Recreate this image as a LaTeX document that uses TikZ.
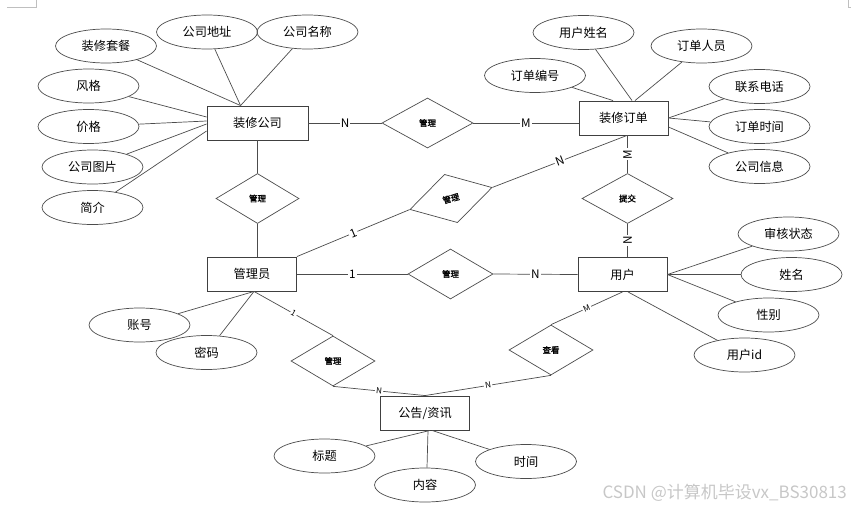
\documentclass[tikz,border=0pt]{standalone}
\usepackage{fontspec}
\setmainfont{Noto Sans CJK SC}[BoldFont={Noto Sans CJK SC},BoldFeatures={FakeBold=1.5}]
\usetikzlibrary{shapes.geometric, calc}

\begin{document}
\begin{tikzpicture}[
			x=0.03cm, y=-0.03cm,
			line/.style={
				draw=black!70,
				line width=0.6pt
			},
			entity/.style={
				rectangle,
				draw=black!75,
				minimum width=2.67cm,
				minimum height=1.02cm,
				inner sep=0pt,
				font=\fontsize{10.4}{12}\selectfont,
				line width=0.75pt
			},
			attr/.style={
				ellipse,
				draw=black!70,
				minimum width=3.03cm,
				minimum height=1.02cm,
				inner sep=0pt,
				font=\fontsize{10.4}{12}\selectfont,
				line width=0.6pt
			},
			rel/.style={
				diamond,
				draw=black!70,
				minimum width=2.52cm,
				minimum height=1.5cm,
				inner sep=0pt,
				font=\fontsize{7.2}{8}\selectfont\bfseries,
				line width=0.6pt
			},
			card/.style={
				fill=white,
				inner sep=1pt,
				sloped,
				font=\fontsize{10}{11}\selectfont
			},
			cardsm/.style={
				card,
				font=\fontsize{7}{8}\selectfont
			}
			]
			
			\useasboundingbox (0,0) rectangle (851,507);
			
			% page corner marks
			\draw[black!25, line width=0.5pt] (7,7) -- (36,7) -- (36,0);
			\draw[black!25, line width=0.5pt] (848,0) -- (848,7) -- (851,7);
			
			% Entities
			\node[entity, minimum width=3.03cm] (company) at (257.5,123) {装修公司};
			\node[entity] (order) at (623.5,118) {装修订单};
			\node[entity] (admin) at (252,274) {管理员};
			\node[entity] (user) at (622.5,274.5) {用户};
			\node[entity] (notice) at (425,413) {公告/资讯};
			
			% Relations
			\node[rel, minimum width=2.73cm] (r_co) at (427.5,123) {管理};
			\node[rel, minimum width=2.49cm] (r_ca) at (257.5,198.5) {管理};
			\node[rel, minimum width=2.55cm, rotate=15] (r_ao) at (451,198.5) {管理};
			\node[rel, minimum width=2.55cm] (r_au) at (450.5,274) {管理};
			\node[rel, minimum width=2.73cm] (r_ou) at (627.5,198.5) {提交};
			\node[rel] (r_an) at (333,361) {管理};
			\node[rel] (r_un) at (551,350) {查看};
			
			% 装修公司 attributes
			\node[attr] (a_pkg) at (106,46) {装修套餐};
			\node[attr] (a_addr) at (207,32) {公司地址};
			\node[attr] (a_cname) at (307.5,32) {公司名称};
			\node[attr] (a_style) at (88.5,86) {风格};
			\node[attr] (a_price) at (88.5,126.5) {价格};
			\node[attr] (a_pic) at (92.5,167) {公司图片};
			\node[attr] (a_intro) at (92.5,207.5) {简介};
			\draw[line] (a_pkg) -- ($(company.north west)+(34,0)$);
			\draw[line] (a_addr) -- ($(company.north west)+(34,0)$);
			\draw[line] (a_cname) -- ($(company.north west)+(34,0)$);
			\draw[line] (a_style) -- ($(company.west)+(0,-6)$);
			\draw[line] (a_price) -- ($(company.west)+(0,-2)$);
			\draw[line] (a_pic) -- ($(company.west)+(0,1)$);
			\draw[line] (a_intro) -- ($(company.west)+(0,8)$);
			
			% 装修订单 attributes
			\node[attr] (a_ono) at (535,75.5) {订单编号};
			\node[attr] (a_uname) at (583.5,32.5) {用户姓名};
			\node[attr] (a_staff) at (701.5,46) {订单人员};
			\node[attr] (a_tel) at (759.5,86.5) {联系电话};
			\node[attr] (a_otime) at (759.5,126.5) {订单时间};
			\node[attr] (a_cinfo) at (759.5,166.5) {公司信息};
			\draw[line] (a_ono) -- ($(order.north)+(-10.5,0)$);
			\draw[line] (a_uname) -- ($(order.north)+(8.5,0)$);
			\draw[line] (a_staff) -- ($(order.north)+(11.5,0)$);
			\draw[line] (a_tel) -- (order.east);
			\draw[line] (a_otime) -- (order.east);
			\draw[line] (a_cinfo) -- ($(order.east)+(0,9)$);
			
			% 用户 attributes
			\node[attr] (a_audit) at (788.5,234) {审核状态};
			\node[attr] (a_name) at (791.5,274.5) {姓名};
			\node[attr] (a_sex) at (768.5,315) {性别};
			\node[attr] (a_uid) at (744.5,355) {用户id};
			\draw[line] (a_audit) -- (user.east);
			\draw[line] (a_name) -- (user.east);
			\draw[line] (a_sex) -- (user.east);
			\draw[line] (a_uid) -- ($(user.south)+(5.5,0)$);
			
			% 管理员 attributes
			\node[attr] (a_acc) at (139.5,325) {账号};
			\node[attr] (a_pwd) at (206.5,352.5) {密码};
			\draw[line] (a_acc) -- ($(admin.south)+(2,0)$);
			\draw[line] (a_pwd) -- ($(admin.south)+(2,0)$);
			
			% 公告/资讯 attributes
			\node[attr] (a_title) at (324.5,456) {标题};
			\node[attr] (a_text) at (425,485) {内容};
			\node[attr] (a_time) at (526,461.5) {时间};
			\draw[line] (a_title) -- ($(notice.south)+(5,0)$);
			\draw[line] ($(notice.south)+(3,0)$) -- ($(a_text.north)+(2,0)$);
			\draw[line] (a_time) -- ($(notice.south)+(7,0)$);
			
			% Relation lines
			\draw[line] (company.east) -- node[card] {N} (r_co.west);
			\draw[line] (r_co.east) -- node[card] {M} ($(order.west)+(0,5)$);
			\draw[line] (company.south) -- (r_ca.north);
			\draw[line] (r_ca.south) -- ($(admin.north)+(5.5,0)$);
			\draw[line] (admin.north east) -- node[card] {1} (r_ao.west);
			\draw[line] (r_ao.east) -- node[card] {N} ($(order.south)+(3.5,0)$);
			\draw[line] (r_ou.north) -- node[card] {M} ($(order.south)+(4,0)$);
			\draw[line] ($(user.north)+(5,0)$) -- node[card] {N} (r_ou.south);
			\draw[line] (admin.east) -- node[card] {1} (r_au.west);
			\draw[line] (r_au.east) -- node[card] {N} (user.west);
			\draw[line] ($(admin.south)+(2,0)$) -- node[cardsm] {1} (r_an.north);
			\draw[line] (r_an.south) -- node[cardsm] {N} (notice.north);
			\draw[line] (r_un.south) -- node[cardsm] {N} (notice.north);
			\draw[line] (user.south) -- node[cardsm] {M} (r_un.north);
			
			% watermark
			\node[anchor=base east, inner sep=0pt, text=black!22, font=\fontsize{14.5}{16}\selectfont] (mark) at (847,498) {CSDN @计算机毕设vx\_BS30813};
			
		\end{tikzpicture}
\end{document}
